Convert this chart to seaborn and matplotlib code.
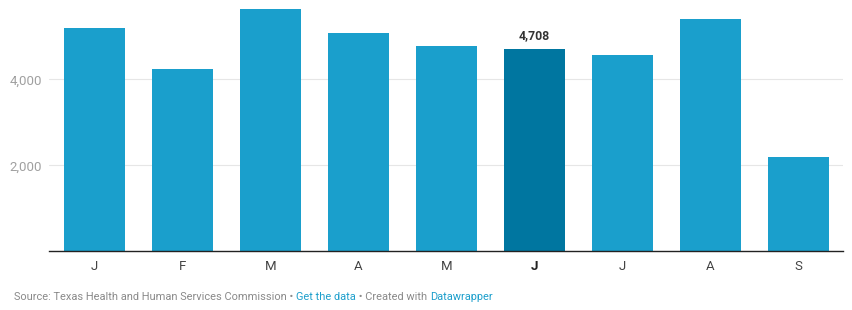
import matplotlib
matplotlib.use("Agg")
import matplotlib.pyplot as plt
import seaborn as sns
import pandas as pd

months = ["Jan", "Feb", "Mar", "Apr", "May", "Jun", "Jul", "Aug", "Sep"]
tick_labels = ["J", "F", "M", "A", "M", "J", "J", "A", "S"]
values = [5190, 4240, 5635, 5077, 4775, 4708, 4565, 5402, 2193]
highlight = "Jun"
yticks = [2000, 4000]
ytick_labels = ["2,000", "4,000"]

base_color = "#1a9fcc"
hl_color = "#0076a0"

sns.set_theme(style="white")
plt.rcParams["font.family"] = ["Roboto", "DejaVu Sans"]

df = pd.DataFrame({"month": months, "value": values})
palette = {m: (hl_color if m == highlight else base_color) for m in months}

fig = plt.figure(figsize=(8.52, 3.10), dpi=100)
ax = fig.add_axes([49 / 852, (310 - 251.3) / 310, (843 - 49) / 852, 251.3 / 310])

sns.barplot(data=df, x="month", y="value", hue="month", palette=palette,
            order=months, legend=False, width=0.693, saturation=1,
            linewidth=0, ax=ax)

ax.set_xlim(-0.517, 8.506)
ax.set_ylim(0, 5844)
ax.set_yticks(yticks)
ax.set_yticklabels(ytick_labels)
ax.set_xticks(range(len(months)))
ax.set_xticklabels(tick_labels)
ax.set_xlabel("")
ax.set_ylabel("")
ax.grid(axis="y", color="#e6e6e6", linewidth=0.8)
ax.set_axisbelow(True)
for s in ["top", "right", "left"]:
    ax.spines[s].set_visible(False)
ax.spines["bottom"].set_color("#222222")
ax.spines["bottom"].set_linewidth(1.0)
ax.tick_params(axis="y", length=0, pad=5, labelsize=9.5, labelcolor="#a0a0a0")
ax.tick_params(axis="x", length=0, pad=6, labelsize=9.5, labelcolor="#444444")
for lbl, m in zip(ax.get_xticklabels(), months):
    if m == highlight:
        lbl.set_fontweight("bold")
        lbl.set_color("#222222")

# value label on highlighted bar
hi = months.index(highlight)
ax.annotate(f"{values[hi]:,}", xy=(hi, values[hi]), xytext=(0, 5),
            textcoords="offset points", ha="center", va="bottom",
            fontsize=8.8, fontweight="bold", color="#333333")

# footer
fig.canvas.draw()
renderer = fig.canvas.get_renderer()
parts = [("Source: Texas Health and Human Services Commission \u2022 ", "#8a8a8a"),
         ("Get the data", "#1d9fcc"),
         (" \u2022 Created with", "#8a8a8a"),
         ("Datawrapper", "#1d9fcc")]
x = 14 / 852
y = 1 - 297 / 310
space_px = 3
for i, (txt, col) in enumerate(parts):
    t = fig.text(x, y, txt, fontsize=7.9, color=col, ha="left", va="center")
    bb = t.get_window_extent(renderer=renderer)
    x += bb.width / fig.bbox.width
    if i == 2:
        x += space_px / fig.bbox.width

fig.savefig("out.png", dpi=100)
